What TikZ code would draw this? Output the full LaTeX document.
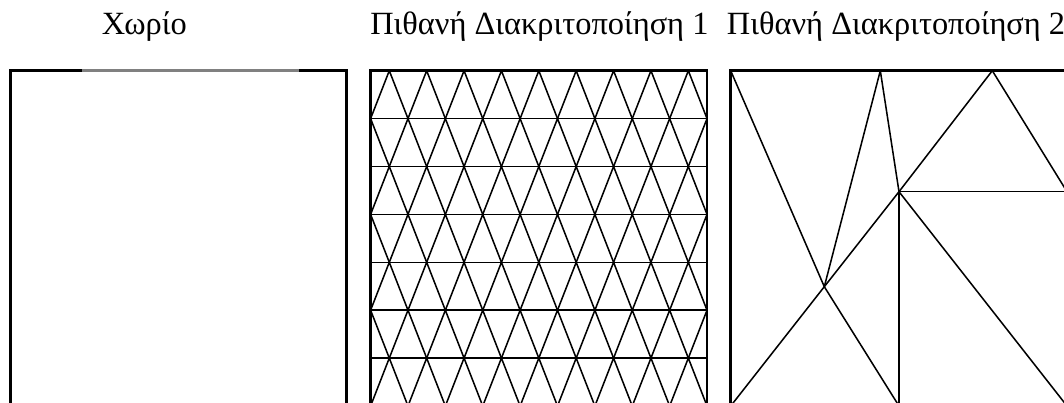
\documentclass[tikz,border=0pt]{standalone}
\usepackage{fontspec}
\setmainfont{Liberation Serif}
\tikzset{
  border/.style={line width=2pt, black},
  inner/.style={line width=1.15pt, black},
  title/.style={font=\fontsize{24.3}{28}\selectfont, anchor=base west, inner sep=0pt},
}
\begin{document}
\begin{tikzpicture}[x=0.75pt, y=-0.75pt]
\clip (0,0) rectangle (1064,403);
\fill[white] (0,0) rectangle (1064,403);
% titles
\node[title] (t1) at (101.7,35) {Χωρίο};
\node[title] (t2) at (370,35) {Πιθανή Διακριτοποίηση 1};
\node[title] (t3) at (726.7,35) {Πιθανή Διακριτοποίηση 2};
% box 1
\draw[border] (82,70.3) -- (10.7,70.3) -- (10.7,406) -- (346.5,406) -- (346.5,70.3) -- (299,70.3);
\draw[border, black!50] (82,70.3) -- (299,70.3);
% box 2 mesh
\begin{scope}
\clip (370.6,70.7) rectangle (707,406);
\foreach \r in {0,...,6} {
  \pgfmathsetmacro\yt{70.7+\r*47.9}
  \pgfmathsetmacro\yb{\yt+47.9}
  \pgfmathsetmacro\off{mod(\r,2)==0 ? 0.5 : 0}
  \foreach \k in {-1,...,9} {
    \draw[inner] ({370.6+(\k+\off-0.5)*37.38},\yb) -- ({370.6+(\k+\off)*37.38},\yt) -- ({370.6+(\k+\off+0.5)*37.38},\yb);
  }
}
\foreach \r in {1,...,6} {
  \draw[inner] (370.6,{70.7+\r*47.9}) -- (707,{70.7+\r*47.9});
}
\end{scope}
\draw[border] (370.6,70.7) rectangle (707,406);
% box 3 mesh
\coordinate (A) at (730.7,70.7);
\coordinate (B) at (880.3,70.7);
\coordinate (C) at (992.3,70.7);
\coordinate (TR) at (1067,70.7);
\coordinate (R) at (1067,191.7);
\coordinate (BR) at (1067,406);
\coordinate (F) at (899,406);
\coordinate (BL) at (730.7,406);
\coordinate (D) at (899,191.7);
\coordinate (E) at (824.3,286.7);
\draw[inner] (A) -- (E);
\draw[inner] (B) -- (E);
\draw[inner] (B) -- (D);
\draw[inner] (D) -- (C);
\draw[inner] (C) -- (R);
\draw[inner] (D) -- (R);
\draw[inner] (D) -- (F);
\draw[inner] (D) -- (BR);
\draw[inner] (D) -- (E);
\draw[inner] (E) -- (BL);
\draw[inner] (E) -- (F);
\draw[border] (A) -- (TR) -- (BR) -- (BL) -- cycle;
\end{tikzpicture}
\end{document}
